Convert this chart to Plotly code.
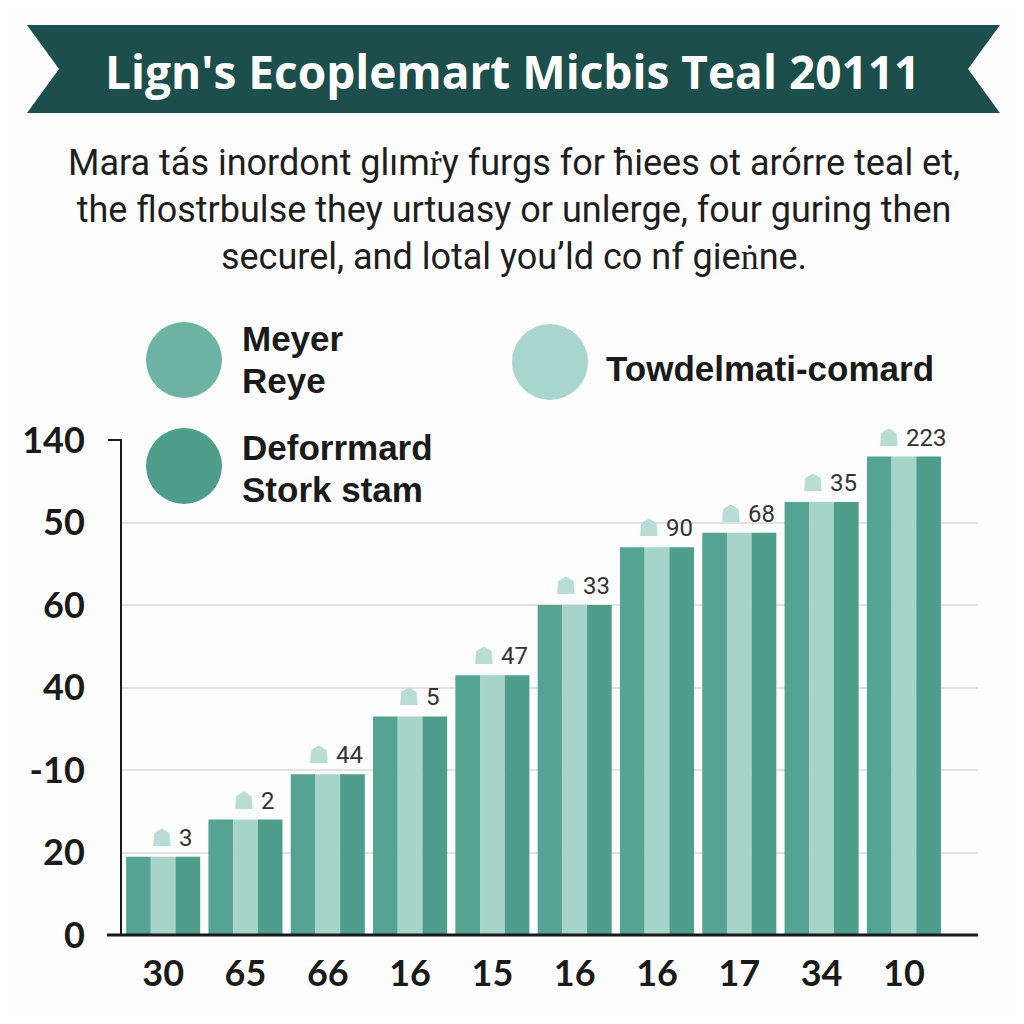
import plotly.graph_objects as go

# ---- data ----
categories = ["30", "65", "66", "16", "15", "16", "16", "17", "34", "10"]
values = [19, 28, 39, 53, 63, 80, 94, 97.5, 105, 116]
bar_labels = ["3", "2", "44", "5", "47", "33", "90", "68", "35", "223"]
series_names = ["Meyer Reye", "Towdelmati-comard", "Deforrmard Stork stam"]
series_colors = ["#55a392", "#a6d4c9", "#4f9d8b"]
ytick_vals = [0, 20, 40, 60, 80, 100, 120]
ytick_text = ["0", "20", "-10", "40", "60", "50", "140"]

title = "Lign's Ecoplemart Micbis Teal 20111"
subtitle = ("Mara tás inordont glımṙy furgs for ħiees ot arórre teal et,<br>"
            "the flostrbulse they urtuasy or unlerge, four guring then<br>"
            "securel, and lotal you’ld co nf gieṅne.")

OFF = 8  # page body margin
W, H = 1008, 1008
L, R, T, B = 122, 978, 440, 935  # reference pixel coords of plot area

def px(x):
    return (x - L) / (R - L)

def py(y):
    return (B - y) / (B - T)

x = list(range(len(categories)))
fig = go.Figure()
for name, col in zip(series_names, series_colors):
    fig.add_trace(go.Bar(
        x=x, y=values, name=name, marker=dict(color=col, line=dict(width=0)),
        showlegend=False,
    ))

shapes = []
# outer frame
shapes.append(dict(type="rect", xref="paper", yref="paper",
                   x0=px(5), x1=px(1019), y0=py(1030), y1=py(2),
                   line=dict(color="#dddddd", width=2), layer="below"))
# banner
pts = [(27, 25), (1000, 25), (968, 69), (1000, 113), (27, 113), (59, 69)]
path = "M " + " L ".join(f"{px(a):.5f},{py(b):.5f}" for a, b in pts) + " Z"
shapes.append(dict(type="path", xref="paper", yref="paper", path=path,
                   fillcolor="#1c4e4b", line=dict(width=0)))
# legend circles
leg = [(184, 360, 38, "#6db3a3"), (550, 362, 38, "#a9d6cc"), (184, 466, 38, "#4f9d8b")]
for cx, cy, r, c in leg:
    shapes.append(dict(type="circle", xref="paper", yref="paper",
                       x0=px(cx - r), x1=px(cx + r), y0=py(cy + r), y1=py(cy - r),
                       fillcolor=c, line=dict(width=0)))
# axis lines with stubs
shapes.append(dict(type="line", xref="paper", yref="paper",
                   x0=px(107), x1=px(978), y0=py(935), y1=py(935),
                   line=dict(color="#1a1a1a", width=3)))
shapes.append(dict(type="line", xref="paper", yref="paper",
                   x0=px(108), x1=px(122), y0=py(440), y1=py(440),
                   line=dict(color="#1a1a1a", width=2)))

annotations = [
    dict(text=f"<b>{title}</b>", xref="paper", yref="paper", x=px(512), y=py(71),
         showarrow=False, font=dict(family="Open Sans", size=46, color="white"),
         xanchor="center", yanchor="middle"),
    dict(text=subtitle, xref="paper", yref="paper", x=px(514), y=py(210),
         showarrow=False, font=dict(family="Roboto", size=36, color="#1e1e1e"),
         xanchor="center", yanchor="middle", align="center"),
]
legend_lines = [("Meyer", 240, 338), ("Reye", 240, 381), ("Towdelmati-comard", 604, 368),
                ("Deforrmard", 240, 447), ("Stork stam", 240, 489)]
for txt, lx, ly in legend_lines:
    annotations.append(dict(text=f"<b>{txt}</b>", xref="paper", yref="paper",
                            x=px(lx), y=py(ly), showarrow=False,
                            font=dict(family="Liberation Sans", size=35, color="#1a1a1a"),
                            xanchor="left", yanchor="middle"))
for xi, v, t in zip(x, values, bar_labels):
    annotations.append(dict(
        text=f"<span style='color:#b9ddd4'>☗</span> {t}", xref="x", yref="y",
        x=xi, y=v, xanchor="center", yanchor="bottom", yshift=3, xshift=8,
        showarrow=False, font=dict(family="Roboto", size=24, color="#333333")))

fig.update_layout(
    width=W, height=H,
    margin=dict(l=L - OFF, r=W - (R - OFF), t=T - OFF, b=H - (B - OFF), pad=0),
    paper_bgcolor="#fdfdfd", plot_bgcolor="#fdfdfd",
    barmode="group", bargap=0.1, bargroupgap=0,
    shapes=shapes, annotations=annotations,
    xaxis=dict(tickmode="array", tickvals=x, ticktext=categories,
               range=[-0.5, 9.9], showgrid=False, zeroline=False, showline=False,
               ticks="", ticklabelstandoff=14,
               tickfont=dict(family="Lato", size=36, color="#1a1a1a", weight="bold")),
    yaxis=dict(tickmode="array", tickvals=ytick_vals, ticktext=ytick_text,
               range=[0, 120], showgrid=True, gridcolor="#e2e2e2", gridwidth=1.5,
               zeroline=False, showline=True, linecolor="#1a1a1a", linewidth=2,
               ticks="", ticklabelstandoff=28,
               tickfont=dict(family="Lato", size=36, color="#1a1a1a", weight="bold")),
)

fig.write_html("out.html")
